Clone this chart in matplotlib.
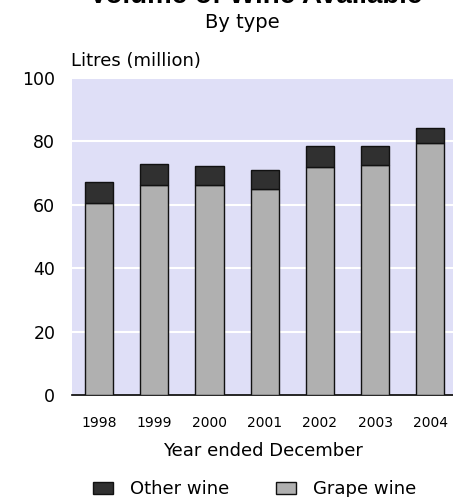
import numpy as np
import matplotlib.pyplot as plt
from matplotlib.patches import Patch

plt.rcParams['font.family'] = ['DejaVu Sans']

years = ['1998', '1999', '2000', '2001', '2002', '2003', '2004']
grape = [60.4, 66.1, 66.1, 64.9, 71.8, 72.4, 79.5]
other = [6.6, 6.6, 5.9, 6.0, 6.6, 6.0, 4.6]

grape_col = '#b0b0b0'
other_col = '#303030'

fig = plt.figure(figsize=(4.53, 4.97), dpi=100)
ax = fig.add_axes([0.159, 0.2052, 0.841, 0.6388])
ax.set_facecolor('#dfdff7')

x = np.arange(len(years))
ax.bar(x, grape, width=0.51, color=grape_col, edgecolor='#111111', linewidth=1.0, zorder=3)
ax.bar(x, other, width=0.51, bottom=grape, color=other_col, edgecolor='#111111', linewidth=1.0, zorder=3)

ax.set_xlim(-0.49, 6.41)
ax.set_ylim(0, 100)
ax.set_yticks([0, 20, 40, 60, 80, 100])
ax.yaxis.grid(True, color='white', linewidth=1.5, zorder=1)
ax.set_axisbelow(True)
for s in ['top', 'right', 'left']:
    ax.spines[s].set_visible(False)
ax.spines['bottom'].set_linewidth(1.2)
ax.tick_params(axis='y', length=0, labelsize=12.5, pad=12)
ax.set_xticks(x)
ax.set_xticklabels(years, fontsize=10)
ax.tick_params(axis='x', length=0, pad=15)
ax.set_xlabel('Year ended December', fontsize=13, labelpad=9)

# title is cut off at the top edge, as in the source
fig.text(256 / 453, 1 + 4 / 497, 'Volume of Wine Available', ha='center', va='center',
         fontsize=20, fontweight='bold', family='Liberation Sans')
fig.text(242 / 453, 1 - 22 / 497, 'By type', ha='center', va='center', fontsize=14)
fig.text(71 / 453, 1 - 61 / 497, 'Litres (million)', ha='left', va='center', fontsize=13)

handles = [Patch(facecolor=other_col, edgecolor='#111111', label='Other wine'),
           Patch(facecolor=grape_col, edgecolor='#111111', label='Grape wine')]
fig.legend(handles=handles, loc='center left', bbox_to_anchor=(93 / 453, 1 - 489 / 497), ncol=2,
           frameon=False, fontsize=13, handlelength=1.1, handleheight=0.67,
           handletextpad=0.95, columnspacing=2.6, borderpad=0, borderaxespad=0)

fig.savefig('out.png', dpi=100)
